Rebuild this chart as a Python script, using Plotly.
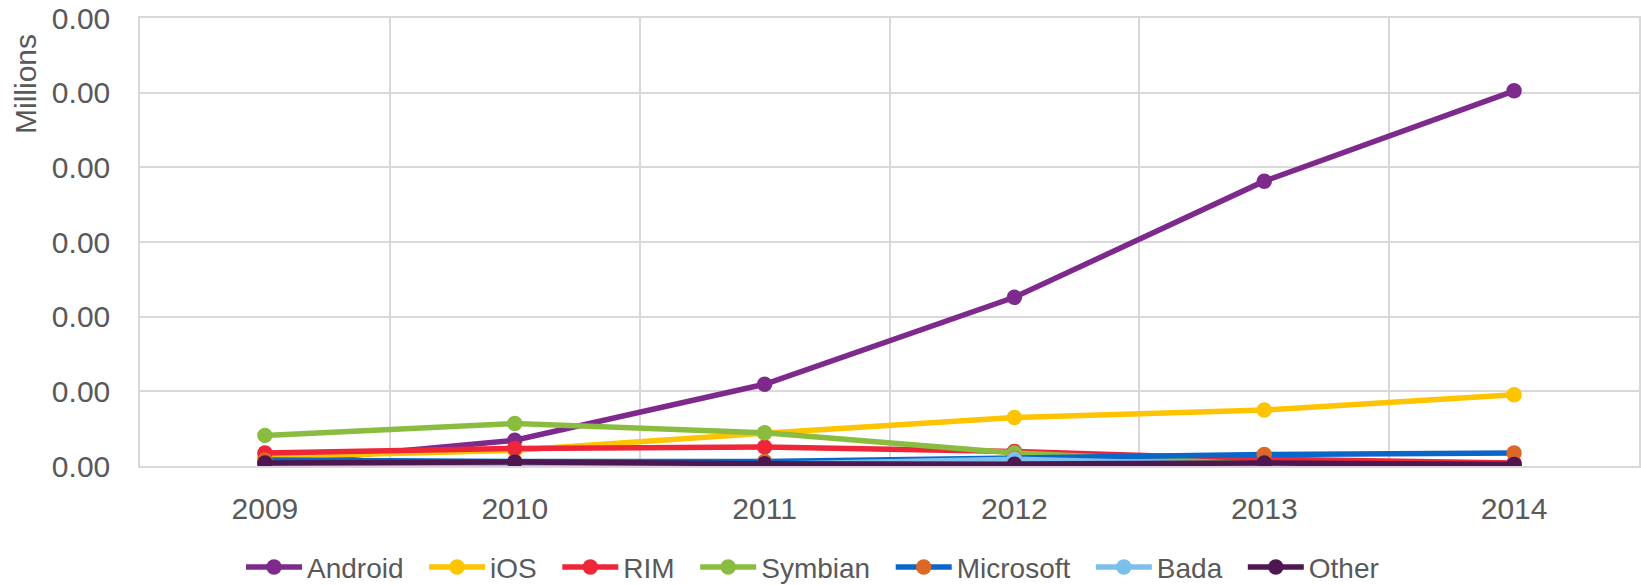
import plotly.graph_objects as go

years = ["2009", "2010", "2011", "2012", "2013", "2014"]
android = [7, 69, 219, 452, 763, 1005]
ios = [25, 42, 88, 130, 150, 191]
rim = [35, 47, 51, 39, 18, 8]
symbian = [82, 114, 89, 35, 4, 0]
microsoft = [16, 12, 12, 21, 31, 35]
bada = [0, 1, 5, 18, 2, 0]
other = [8, 11, 6, 5, 8, 4]

y_ticks = [0, 200, 400, 600, 800, 1000, 1200]
y_tick_labels = ["0.00"] * len(y_ticks)

series = [
    ("Android", android, "#7E2A8D", "#7E2A8D"),
    ("iOS", ios, "#FFC400", "#FFC400"),
    ("RIM", rim, "#EE2637", "#EE2637"),
    ("Symbian", symbian, "#8ABD3F", "#8ABD3F"),
    ("Microsoft", microsoft, "#0A66C8", "#DB6825"),
    ("Bada", bada, "#7BBFEA", "#7BBFEA"),
    ("Other", other, "#4E1752", "#4E1752"),
]

xs = list(range(len(years)))
fig = go.Figure()
for name, vals, lc, mc in series:
    fig.add_trace(go.Scatter(
        x=xs, y=vals, name=name + "\u00a0\u00a0", mode="lines+markers",
        line=dict(color=lc, width=5.5),
        marker=dict(color=mc, size=15.5),
    ))

text_color = "#595959"
fig.update_layout(
    width=1641, height=585,
    margin=dict(l=140, r=2, t=18, b=119, autoexpand=False),
    paper_bgcolor="white", plot_bgcolor="white",
    font=dict(family="Liberation Sans, Arial, sans-serif", color=text_color, size=30),
    showlegend=True,
    legend=dict(
        orientation="h", xref="container", x=0.5, xanchor="center",
        y=-0.226, yanchor="middle",
        font=dict(family="Liberation Sans, Arial", size=28, color=text_color),
        itemwidth=56, tracegroupgap=0,
    ),
    annotations=[dict(
        text="Millions", textangle=-90, xref="paper", yref="paper",
        x=(25 - 140) / 1499, y=(466 - 84) / 448, xanchor="center", yanchor="middle",
        showarrow=False, font=dict(size=30, color=text_color),
    )],
)
fig.update_xaxes(
    range=[-0.5, len(years) - 0.5], automargin=False,
    tickmode="array", tickvals=xs, ticktext=years,
    showgrid=False, zeroline=False,
    showline=True, linecolor="#D9D9D9", linewidth=1.5, mirror=True,
    ticks="outside", ticklen=15, tickcolor="rgba(0,0,0,0)",
    minor=dict(tick0=0.5, dtick=1, showgrid=True, gridcolor="#D9D9D9", gridwidth=1.5),
)
fig.update_yaxes(
    range=[0, 1200], automargin=False,
    tickmode="array", tickvals=y_ticks, ticktext=y_tick_labels,
    showgrid=True, gridcolor="#D9D9D9", gridwidth=1.5, zeroline=False,
    showline=True, linecolor="#D9D9D9", linewidth=1.5, mirror=True,
    ticks="outside", ticklen=22, tickcolor="rgba(0,0,0,0)",
)

fig.write_html(
    "out.html",
    config={"displayModeBar": False},
    post_script="document.body.style.margin='0px';document.body.style.overflow='hidden';",
)
